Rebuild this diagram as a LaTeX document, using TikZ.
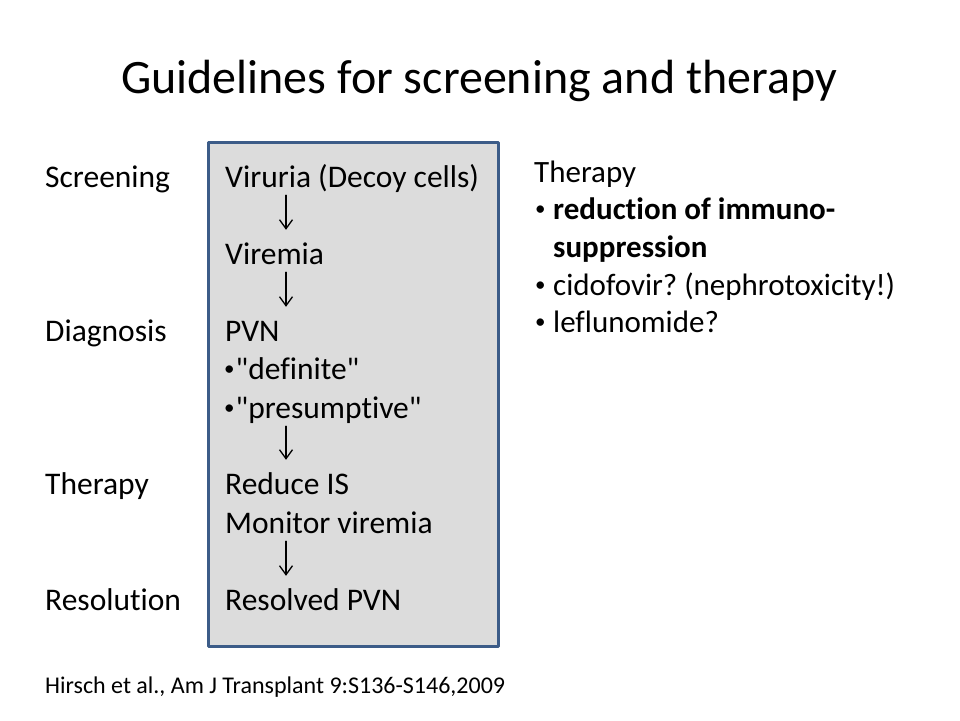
\documentclass[tikz,border=0pt]{standalone}
\usepackage{fontspec}
\setmainfont{Carlito}[Ligatures={TeXOff,NoCommon}]
\usetikzlibrary{arrows.meta}
\definecolor{boxblue}{RGB}{60,92,136}
\definecolor{boxgray}{RGB}{220,220,220}
\newcommand{\sbul}{\raisebox{3.5pt}{\fontsize{21}{21}\selectfont •}}
\frenchspacing
\begin{document}
\begin{tikzpicture}[x=1pt, y=-1pt, line join=round, line cap=round,
	txt/.style={anchor=base west, inner sep=0pt, font=\fontsize{31.5}{38}\selectfont, text height=22pt, text depth=8pt},
	side/.style={anchor=base west, inner sep=0pt, font=\fontsize{31}{37}\selectfont},
	flow/.style={-{Straight Barb[length=9pt, width=13pt]}, line width=1.3pt, shorten >=12pt}]
	\useasboundingbox (0,0) rectangle (960,720);
	\node[anchor=base, inner sep=0pt, font=\fontsize{48}{56}\selectfont] (title) at (479,93) {Guidelines for screening and therapy};
	\draw[boxblue, fill=boxgray, line width=3pt] (208,142) rectangle (498,646);
	% stages on the left
	\node[txt] (screening) at (45,187) {Screening};
	\node[txt] (diagnosis) at (45,341) {Diagnosis};
	\node[txt] (therapyL) at (45,494) {Therapy};
	\node[txt] (resolution) at (45,610) {Resolution};
	% steps in the box
	\node[txt] (viruria) at (225,187) {Viruria (Decoy cells)};
	\node[txt] (viremia) at (225,264) {Viremia};
	\node[txt] (pvn) at (225,341) {PVN};
	\node[txt] (definite) at (224,379) {\sbul\hspace{1pt}"definite"};
	\node[txt] (presumptive) at (224,418) {\sbul\hspace{1pt}"presumptive"};
	\node[txt] (reduce) at (225,494) {Reduce IS};
	\node[txt] (monitor) at (225,533) {Monitor viremia};
	\node[txt] (resolved) at (225,610) {Resolved PVN};
	\coordinate (ax) at (286,0);
	\foreach \a/\b in {viruria/viremia, viremia/pvn, presumptive/reduce, monitor/resolved}
		\draw[flow] (ax |- \a.south) -- (ax |- \b.north);
	% therapy list
	\node[side] (therapyR) at (534,182) {Therapy};
	\node[side] (dot1) at (535,219) {\sbul};
	\node[side, font=\fontsize{31}{37}\selectfont\bfseries] (reduction) at (553,219) {reduction of immuno-};
	\node[side, font=\fontsize{31}{37}\selectfont\bfseries] (suppression) at (553,257) {suppression};
	\node[side] (dot2) at (535,295) {\sbul};
	\node[side] (cidofovir) at (553,295) {cidofovir? (nephrotoxicity!)};
	\node[side] (dot3) at (535,332) {\sbul};
	\node[side] (leflunomide) at (553,332) {leflunomide?};
	\node[anchor=base west, inner sep=0pt, font=\fontsize{24}{28}\selectfont] (cite) at (45,693) {Hirsch et al., Am J Transplant 9:S136-S146,2009};
\end{tikzpicture}
\end{document}
